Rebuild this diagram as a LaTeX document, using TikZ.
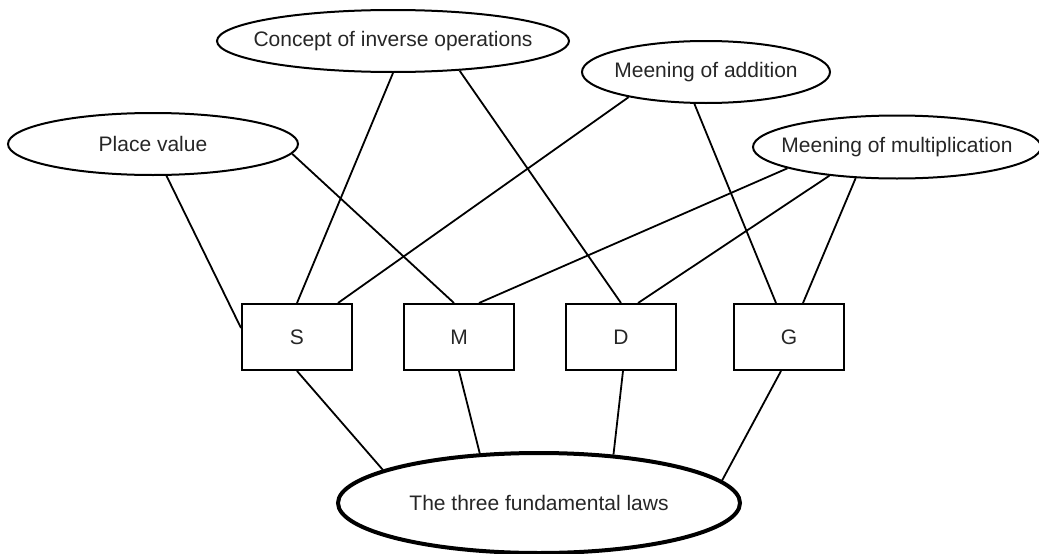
\documentclass[tikz,border=0pt]{standalone}
\usepackage{fontspec}
\setmainfont{Liberation Sans}
\usetikzlibrary{positioning,shapes.geometric}
\tikzset{
  topic/.style={draw,ellipse,line width=2pt,inner xsep=-18pt,inner ysep=0pt,
    font=\fontsize{21}{24}\selectfont,text=black!85},
  law/.style={topic,line width=4pt},
  op/.style={draw,rectangle,line width=2pt,minimum width=110pt,
    minimum height=66pt,inner sep=0pt,font=\fontsize{21}{24}\selectfont,text=black!85},
  link/.style={line width=1.8pt},
}
\begin{document}
\begin{tikzpicture}[x=1pt,y=-1pt,node distance=50pt]
\useasboundingbox (0,0) rectangle (1039,554);
% ideas on top
\node[topic,minimum width=290pt,minimum height=62pt] (pv) at (153,144) {Place value};
\node[topic,minimum width=352pt,minimum height=62pt] (inv) at (393,41) {Concept of inverse operations};
\node[topic,minimum width=248pt,minimum height=62pt] (add) at (706,72) {Meening of addition};
\node[topic,minimum width=288pt,minimum height=63pt] (mul) at (897,147) {Meening of multiplication};
% the four operations
\node[op] (S) at (297,337) {S};
\node[op,right=of S] (M) {M};
\node[op,right=of M] (D) {D};
\node[op,right=56pt of D] (G) {G};
% laws
\node[law,minimum width=402pt,minimum height=100pt] (laws) at (539,503) {The three fundamental laws};
% links from the ideas
\draw[link] (pv.-67) -- ([yshift=9pt]S.west);
\draw[link] (pv.-4) -- ([xshift=-5pt]M.north);
\draw[link] (inv.south) -- (S.north);
\draw[link] (inv.-24) -- (D.north);
\draw[link] (add.198) -- ([xshift=41pt]S.north);
\draw[link] (add.-110) -- ([xshift=-13pt]G.north);
\draw[link] (mul.191) -- ([xshift=20pt]M.north);
\draw[link] (mul.203) -- ([xshift=17pt]D.north);
\draw[link] (mul.217) -- ([xshift=14pt]G.north);
% links to the laws
\draw[link] (S.south) -- (laws.168);
\draw[link] (M.south) -- (laws.140);
\draw[link] ([xshift=2pt]D.south) -- (laws.33);
\draw[link] ([xshift=-8pt]G.south) -- (laws.7);
\end{tikzpicture}
\end{document}
